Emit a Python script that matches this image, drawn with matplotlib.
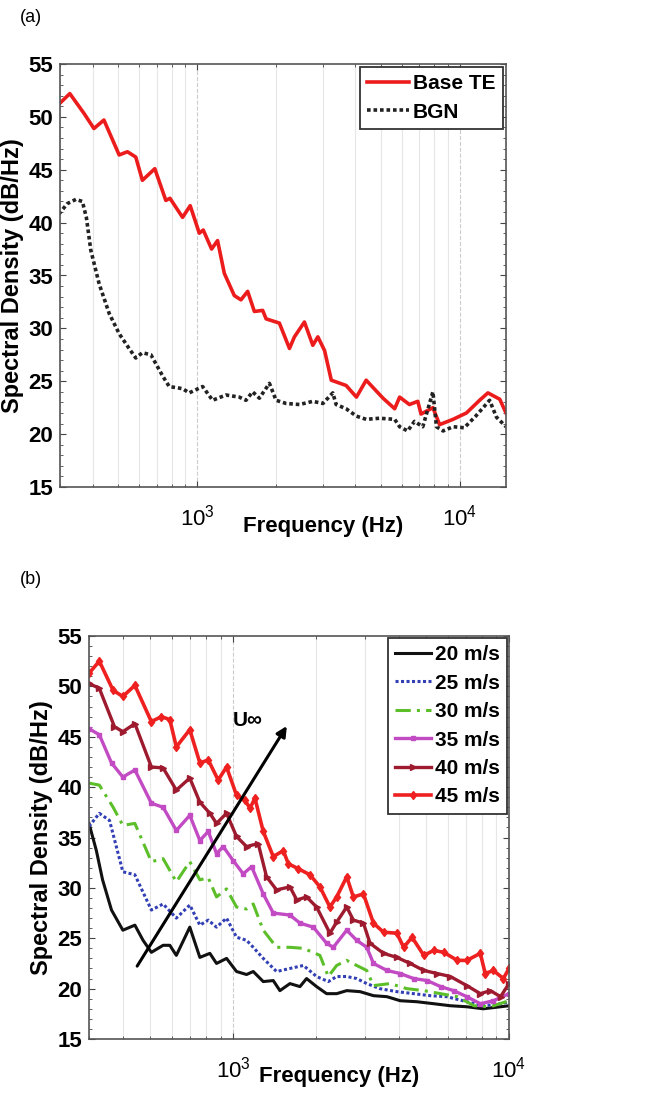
import matplotlib
matplotlib.use("Agg")
import matplotlib.pyplot as plt
from matplotlib.ticker import LogLocator, MultipleLocator, NullFormatter

plt.rcParams["font.family"] = ["Liberation Sans", "DejaVu Sans"]
plt.rcParams["mathtext.fontset"] = "custom"
plt.rcParams["mathtext.rm"] = "Liberation Sans"
plt.rcParams["mathtext.default"] = "regular"

# ---- panel (a): base trailing edge vs background noise ----
freq_te = [297, 327, 371, 404, 441, 504, 542, 583, 618, 689, 759, 787, 879, 940,
           1018, 1054, 1134, 1195, 1268, 1384, 1467, 1556, 1650, 1775, 1829, 2055,
           2245, 2345, 2560, 2755, 2880, 3055, 3240, 3690, 4040, 4400, 5100, 5650,
           5900, 6430, 6920, 7120, 7900, 8380, 9430, 10600, 11900, 12800, 14200, 15000]
spl_te = [51.2, 52.2, 50.3, 48.9, 49.7, 46.4, 46.7, 46.2, 44.0, 45.1, 42.1, 42.3, 40.5, 41.6,
          39.0, 39.3, 37.5, 38.3, 35.2, 33.1, 32.7, 33.5, 31.6, 31.7, 30.9, 30.5,
          28.1, 29.2, 30.6, 28.4, 29.2, 27.9, 25.1, 24.6, 23.5, 25.1, 23.4, 22.4,
          23.5, 22.8, 23.1, 21.9, 22.5, 20.9, 21.4, 22.0, 23.2, 23.9, 23.3, 22.0]

freq_bgn = [297, 320, 345, 365, 378, 393, 423, 462, 504, 550, 583, 618, 666, 738, 782,
            879, 932, 1048, 1144, 1286, 1446, 1533, 1625, 1724, 1883, 1996, 2180, 2452,
            2755, 3010, 3283, 3381, 3690, 4040, 4400, 4945, 5650, 5900, 6330, 6720,
            7230, 7900, 8150, 8640, 9430, 10400, 11500, 12990, 13800, 15000]
spl_bgn = [40.8, 41.8, 42.2, 42.0, 40.5, 37.4, 34.2, 31.4, 29.5, 28.1, 27.2, 27.7, 27.5, 25.5, 24.5,
           24.3, 23.9, 24.5, 23.2, 23.7, 23.5, 23.2, 24.0, 23.4, 24.8, 23.2, 22.9, 22.8,
           23.1, 22.9, 23.9, 22.8, 22.4, 21.7, 21.4, 21.5, 21.4, 20.7, 20.3, 21.2,
           20.7, 24.0, 20.7, 20.3, 20.7, 20.6, 21.7, 23.2, 21.6, 20.7]

# ---- panel (b): velocity sweep ----
freq_45 = [300, 327, 367, 398, 440, 505, 549, 589, 622, 696, 757, 812, 882, 946, 1028,
           1103, 1150, 1199, 1285, 1397, 1519, 1584, 1722, 1898, 2063, 2242, 2372, 2580,
           2727, 2966, 3225, 3508, 3920, 4150, 4450, 4910, 5340, 5800, 6500, 7030, 7870,
           8200, 8780, 9540, 10000]
spl_45 = [51.3, 52.5, 49.6, 49.0, 50.1, 46.5, 47.0, 46.7, 44.0, 45.7, 42.4, 42.7, 40.7, 42.0, 39.2,
          38.7, 37.9, 38.9, 35.6, 33.1, 33.7, 32.4, 31.9, 31.3, 30.1, 28.1, 29.1, 31.1,
          29.1, 29.4, 26.5, 25.6, 25.5, 24.1, 25.1, 23.3, 23.8, 23.6, 22.8, 22.8, 23.5,
          21.5, 21.8, 21.0, 22.0]

freq_40 = [300, 327, 371, 398, 440, 505, 557, 622, 696, 757, 823, 870, 946, 1028, 1118,
           1232, 1321, 1436, 1606, 1700, 1845, 2006, 2242, 2372, 2580, 2727, 2966, 3135,
           3508, 3920, 4380, 4910, 5490, 6130, 7030, 7870, 8560, 9320, 10000]
spl_40 = [50.3, 49.8, 46.0, 45.5, 46.3, 42.0, 41.9, 39.7, 40.9, 38.5, 37.4, 36.4, 37.4, 35.1, 34.1,
          34.4, 31.1, 29.8, 30.1, 28.8, 29.1, 28.1, 25.5, 26.6, 28.1, 26.8, 26.5, 24.5,
          23.5, 23.1, 22.5, 21.8, 21.5, 21.2, 20.3, 19.5, 19.8, 19.2, 20.5]

freq_35 = [300, 327, 362, 398, 440, 505, 557, 622, 696, 757, 812, 870, 920, 1000, 1087,
           1166, 1285, 1397, 1606, 1746, 1952, 2181, 2307, 2580, 2803, 3050, 3225, 3610,
           4030, 4510, 5050, 5650, 6300, 7030, 7870, 8780, 10000]
spl_35 = [45.8, 45.2, 42.4, 41.0, 41.7, 38.4, 38.0, 35.7, 37.2, 34.7, 35.6, 33.4, 34.1, 32.7, 31.4,
          32.1, 29.4, 27.5, 27.3, 26.5, 26.1, 24.5, 24.1, 25.8, 24.8, 24.1, 22.5, 21.8,
          21.5, 21.0, 20.8, 20.2, 19.8, 19.2, 18.5, 18.8, 19.5]

freq_30 = [300, 327, 367, 398, 440, 505, 557, 622, 696, 757, 812, 870, 946, 1028, 1118,
           1182, 1285, 1436, 1606, 1797, 2063, 2212, 2372, 2580, 2803, 3050, 3225, 3700,
           4260, 4910, 5650, 6500, 7460, 8560, 10000]
spl_30 = [40.4, 40.2, 38.0, 36.2, 36.4, 32.6, 32.9, 30.6, 32.6, 30.8, 31.0, 29.1, 29.9, 28.1, 27.9,
          28.4, 25.8, 24.1, 24.1, 24.0, 23.3, 21.2, 22.3, 22.8, 22.3, 21.8, 20.3, 20.5,
          20.0, 19.8, 19.5, 19.2, 18.3, 18.2, 18.8]

freq_25 = [300, 327, 356, 398, 440, 505, 557, 622, 696, 757, 812, 870, 946, 1028, 1118,
           1182, 1285, 1436, 1606, 1797, 2006, 2212, 2372, 2580, 2803, 3050, 3400, 3920,
           4510, 5180, 5950, 7030, 8070, 9320, 10000]
spl_25 = [36.1, 37.4, 36.7, 31.6, 31.3, 27.8, 28.4, 27.0, 28.3, 26.3, 26.8, 26.1, 27.0, 25.1, 24.8,
          24.1, 23.0, 21.7, 22.0, 22.3, 21.2, 20.7, 21.2, 21.2, 21.0, 20.5, 20.0, 19.7,
          19.5, 19.3, 19.2, 18.7, 18.3, 18.5, 18.7]

freq_20 = [300, 319, 336, 362, 398, 440, 471, 505, 557, 589, 622, 696, 757, 823, 870,
           946, 1028, 1118, 1182, 1285, 1397, 1477, 1606, 1746, 1845, 2006, 2181, 2372,
           2580, 2884, 3225, 3610, 4030, 4630, 5340, 6130, 7030, 8070, 9320, 10000]
spl_20 = [36.4, 33.7, 30.8, 27.8, 25.8, 26.3, 24.8, 23.6, 24.3, 24.3, 23.3, 26.1, 23.1, 23.5, 22.5,
          23.0, 21.7, 21.4, 21.7, 20.7, 20.8, 19.8, 20.5, 20.2, 21.0, 20.2, 19.5, 19.5,
          19.8, 19.7, 19.3, 19.2, 18.8, 18.7, 18.5, 18.3, 18.2, 18.0, 18.2, 18.3]

labels_b = ["20 m/s", "25 m/s", "30 m/s", "35 m/s", "40 m/s", "45 m/s"]
arrow_start = (443, 22.0)
arrow_end = (1584, 46.3)


def style_axes(ax, xmax):
	ax.set_xscale("log")
	ax.set_xlim(300, xmax)
	ax.set_ylim(15, 55)
	ax.xaxis.set_major_locator(LogLocator(base=10))
	ax.xaxis.set_minor_locator(LogLocator(base=10, subs=range(2, 10)))
	ax.xaxis.set_minor_formatter(NullFormatter())
	ax.set_xticks([1e3, 1e4])
	ax.set_xticklabels(["$10^3$", "$10^4$"], fontsize=16)
	ax.yaxis.set_major_locator(MultipleLocator(5))
	ax.yaxis.set_minor_locator(MultipleLocator(1))
	for lab in ax.get_yticklabels():
		lab.set_fontweight("bold")
		lab.set_fontsize(16)
	ax.tick_params(which="both", direction="in", top=True, right=True, color="#444444")
	ax.tick_params(axis="x", which="major", pad=13, length=4)
	ax.tick_params(axis="y", which="major", pad=5, length=4)
	ax.tick_params(which="minor", length=2)
	ax.grid(True, which="minor", axis="x", color="#e6e6e6", lw=0.8)
	ax.grid(True, which="major", axis="x", color="#cccccc", lw=0.8, ls="--")
	for sp in ax.spines.values():
		sp.set_color("#555555")
		sp.set_linewidth(1.2)
	ax.set_ylabel("Spectral Density (dB/Hz)", fontsize=17, fontweight="bold", labelpad=3)


fig = plt.figure(figsize=(6.53, 10.95), dpi=100)
W, H = 653, 1095

ax_a = fig.add_axes([60 / W, 1 - 487 / H, 446 / W, 423 / H])
ax_a.plot(freq_te, spl_te, color="#ec1c1c", lw=2.6, label="Base TE")
ax_a.plot(freq_bgn, spl_bgn, color="#222222", lw=2.6, ls=(0, (1, 0.8)), label="BGN")
style_axes(ax_a, 15000)
ax_a.set_xlabel("Frequency (Hz)", fontsize=16, fontweight="bold")
ax_a.xaxis.set_label_coords(0.59, -0.093)
ax_a.xaxis.label.set_va("center")
leg = ax_a.legend(loc="upper right", prop={"weight": "bold", "size": 15},
                  fancybox=False, edgecolor="#333333", framealpha=1,
                  handlelength=2.0, handletextpad=0.2, borderpad=0.35,
                  labelspacing=0.45, borderaxespad=0.15)
leg.get_frame().set_linewidth(1.3)
fig.text(20 / W, 1 - 18 / H, "(a)", fontsize=13, va="center")

ax_b = fig.add_axes([89 / W, 1 - 1039 / H, 420 / W, 403 / H])
series_b = [
	(freq_20, spl_20, dict(color="#111111", lw=2.2, ls="-")),
	(freq_25, spl_25, dict(color="#3340b5", lw=2.2, ls=(0, (1, 0.8)))),
	(freq_30, spl_30, dict(color="#5cbf2a", lw=2.2, ls=(0, (5, 2, 1, 2)))),
	(freq_35, spl_35, dict(color="#c24bc4", lw=2.4, marker="s", ms=3)),
	(freq_40, spl_40, dict(color="#9e1b2f", lw=2.4, marker=">", ms=4)),
	(freq_45, spl_45, dict(color="#ee2020", lw=2.6, marker="d", ms=4.5)),
]
for (fx, fy, kw), lab in zip(series_b, labels_b):
	ax_b.plot(fx, fy, label=lab, **kw)
style_axes(ax_b, 10000)
ax_b.set_xlabel("Frequency (Hz)", fontsize=16, fontweight="bold")
ax_b.xaxis.set_label_coords(0.595, -0.093)
ax_b.xaxis.label.set_va("center")
leg_b = ax_b.legend(loc="upper right", prop={"weight": "bold", "size": 15},
                    fancybox=False, edgecolor="#333333", framealpha=1,
                    handlelength=1.7, handletextpad=0.2, borderpad=0.35,
                    labelspacing=0.45, borderaxespad=0.1)
leg_b.get_frame().set_linewidth(1.3)
ax_b.annotate("", xy=arrow_end, xytext=arrow_start,
              arrowprops=dict(arrowstyle="-|>", color="black", lw=2.2, mutation_scale=15))
ax_b.text(1133, 46.6, "U∞", fontsize=15, fontweight="bold", ha="center", va="center")
fig.text(20 / W, 1 - 580 / H, "(b)", fontsize=13, va="center")

fig.savefig("out.png", dpi=100)
